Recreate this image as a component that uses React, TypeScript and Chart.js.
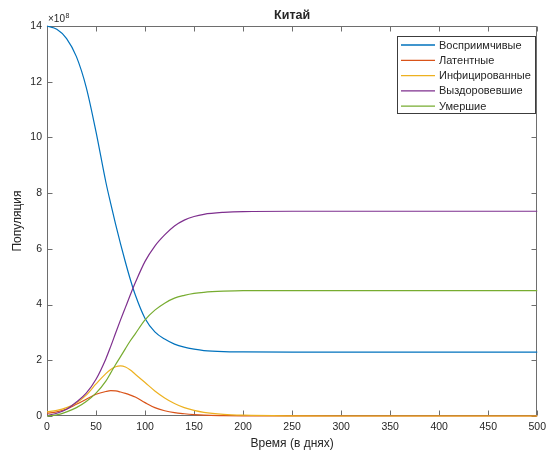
import React, { useEffect, useRef } from 'react';
import { Chart, registerables } from 'chart.js';

Chart.register(...registerables);

// Time axis (days)
const days = [0, 10, 20, 30, 40, 50, 60, 65, 70, 75, 80, 85, 90, 100, 110, 120, 130, 140, 150, 160, 180, 200, 250, 300, 400, 500];

// Population values in units of 10^8
const susceptible = [14.0, 13.88, 13.55, 12.9, 11.8, 10.2, 8.4, 7.62, 6.88, 6.18, 5.52, 4.9, 4.35, 3.5, 3.02, 2.76, 2.58, 2.47, 2.4, 2.35, 2.31, 2.3, 2.29, 2.29, 2.29, 2.29];
const latent = [0.1, 0.15, 0.25, 0.42, 0.6, 0.78, 0.88, 0.91, 0.9, 0.86, 0.81, 0.75, 0.68, 0.48, 0.3, 0.19, 0.12, 0.08, 0.05, 0.03, 0.015, 0.008, 0.001, 0, 0, 0];
const infected = [0.15, 0.2, 0.3, 0.47, 0.75, 1.15, 1.52, 1.67, 1.77, 1.8, 1.76, 1.65, 1.5, 1.2, 0.9, 0.65, 0.45, 0.3, 0.2, 0.13, 0.06, 0.03, 0.005, 0, 0, 0];
const recovered = [0.02, 0.1, 0.24, 0.5, 0.82, 1.32, 2.05, 2.5, 2.98, 3.45, 3.9, 4.35, 4.78, 5.55, 6.1, 6.5, 6.82, 7.03, 7.16, 7.24, 7.31, 7.34, 7.35, 7.35, 7.35, 7.35];
const deceased = [0.0, 0.04, 0.15, 0.3, 0.52, 0.82, 1.25, 1.55, 1.85, 2.13, 2.42, 2.7, 2.95, 3.45, 3.8, 4.05, 4.23, 4.33, 4.4, 4.44, 4.48, 4.5, 4.5, 4.5, 4.5, 4.5];

const seriesLabels = ['Восприимчивые', 'Латентные', 'Инфицированные', 'Выздоровевшие', 'Умершие'];
const seriesColors = ['#0072BD', '#D95319', '#EDB120', '#7E2F8E', '#77AC30'];
const seriesValues = [susceptible, latent, infected, recovered, deceased];

const chartTitle = 'Китай';
const xTitle = 'Время (в днях)';
const yTitle = 'Популяция';
const xTickStep = 50;
const yTickStep = 2;

const FONT = '"Liberation Sans", Arial, Helvetica, sans-serif';
const TEXT = '#262626';
const AXIS = '#6e6e6e';

const matlabPlugin = {
  id: 'matlabAxes',
  beforeDatasetsDraw(chart: any) {
    const { ctx, chartArea: ca, scales } = chart;
    const xs = scales.x;
    const ys = scales.y;
    ctx.save();
    ctx.strokeStyle = AXIS;
    ctx.lineWidth = 1;
    const L = Math.round(ca.left) + 0.5;
    const R = Math.round(ca.right) - 0.5;
    const T = Math.round(ca.top) + 0.5;
    const B = Math.round(ca.bottom) - 0.5;
    ctx.beginPath();
    ctx.rect(L, T, R - L, B - T);
    ctx.stroke();
    const tl = 5;
    ctx.beginPath();
    xs.ticks.forEach((t: any) => {
      const px = Math.round(xs.getPixelForValue(t.value)) + 0.5;
      ctx.moveTo(px, B);
      ctx.lineTo(px, B - tl);
      ctx.moveTo(px, T);
      ctx.lineTo(px, T + tl);
    });
    ys.ticks.forEach((t: any) => {
      const py = Math.round(ys.getPixelForValue(t.value)) + 0.5;
      ctx.moveTo(L, py);
      ctx.lineTo(L + tl, py);
      ctx.moveTo(R, py);
      ctx.lineTo(R - tl, py);
    });
    ctx.stroke();
    ctx.restore();
  },
  afterDatasetsDraw(chart: any) {
    const { ctx, chartArea: ca } = chart;
    ctx.save();
    // exponent label
    ctx.fillStyle = TEXT;
    ctx.textBaseline = 'alphabetic';
    ctx.textAlign = 'left';
    ctx.font = `10px ${FONT}`;
    ctx.fillText('×10', ca.left + 1, ca.top - 4);
    const w = ctx.measureText('×10').width;
    ctx.font = `7px ${FONT}`;
    ctx.fillText('8', ca.left + 1 + w + 0.5, ca.top - 8);

    // legend
    ctx.font = `11px ${FONT}`;
    const datasets = chart.data.datasets;
    let maxW = 0;
    datasets.forEach((d: any) => {
      maxW = Math.max(maxW, ctx.measureText(d.label).width);
    });
    const rowH = 15.3;
    const boxW = Math.round(4 + 34 + 4 + maxW + 5);
    const boxH = Math.round(datasets.length * rowH + 1);
    const right = Math.round(ca.right) - 1;
    const left = right - boxW;
    const top = Math.round(ca.top) + 10;
    ctx.fillStyle = '#ffffff';
    ctx.fillRect(left, top, boxW, boxH);
    ctx.strokeStyle = '#3c3c3c';
    ctx.lineWidth = 1;
    ctx.strokeRect(left + 0.5, top + 0.5, boxW - 1, boxH - 1);
    datasets.forEach((d: any, i: number) => {
      const cy = top + 9 + i * rowH;
      ctx.strokeStyle = d.borderColor;
      ctx.lineWidth = 1.3;
      ctx.beginPath();
      ctx.moveTo(left + 4, cy);
      ctx.lineTo(left + 38, cy);
      ctx.stroke();
      ctx.fillStyle = TEXT;
      ctx.textBaseline = 'middle';
      ctx.fillText(d.label, left + 42, cy + 0.5);
    });
    ctx.restore();
  },
};

export default function App() {
  const ref = useRef<HTMLCanvasElement | null>(null);

  useEffect(() => {
    document.body.style.margin = '0';
    const canvas = ref.current;
    if (!canvas) return;
    const chart = new Chart(canvas, {
      type: 'line',
      data: {
        labels: days,
        datasets: seriesValues.map((vals, i) => ({
          label: seriesLabels[i],
          data: vals.map((v, j) => ({ x: days[j], y: v })),
          borderColor: seriesColors[i],
          backgroundColor: seriesColors[i],
          borderWidth: 1.2,
          pointRadius: 0,
          cubicInterpolationMode: 'monotone' as const,
          fill: false,
          clip: false as any,
          order: seriesValues.length - i,
        })),
      },
      options: {
        responsive: false,
        animation: false,
        events: [],
        layout: { padding: { left: 0, right: 12, top: 0, bottom: 0 } },
        plugins: {
          legend: { display: false },
          tooltip: { enabled: false },
          title: {
            display: true,
            text: chartTitle,
            fullSize: false,
            color: TEXT,
            font: { family: FONT, size: 12.5, weight: 'bold' },
            padding: { top: 8, bottom: 3 },
          },
        },
        scales: {
          x: {
            type: 'linear',
            min: 0,
            max: 500,
            grid: { display: false, drawTicks: false },
            border: { display: false },
            ticks: {
              stepSize: xTickStep,
              color: TEXT,
              padding: 5,
              maxRotation: 0,
              autoSkip: false,
              font: { family: FONT, size: 10.5 },
            },
            title: {
              display: true,
              text: xTitle,
              color: TEXT,
              font: { family: FONT, size: 12 },
              padding: { top: 0, bottom: 1 },
            },
            afterFit: (s: any) => {
              s.height = 36;
            },
          },
          y: {
            type: 'linear',
            min: 0,
            max: 14,
            grid: { display: false, drawTicks: false },
            border: { display: false },
            ticks: {
              stepSize: yTickStep,
              color: TEXT,
              padding: 5,
              autoSkip: false,
              font: { family: FONT, size: 10.5 },
            },
            title: {
              display: true,
              text: yTitle,
              color: TEXT,
              font: { family: FONT, size: 12 },
              padding: { top: 10, bottom: 0 },
            },
            afterFit: (s: any) => {
              s.width = 47;
            },
          },
        },
      },
      plugins: [matlabPlugin],
    });
    return () => chart.destroy();
  }, []);

  return <canvas ref={ref} width={551} height={452} style={{ display: 'block' }} />;
}
